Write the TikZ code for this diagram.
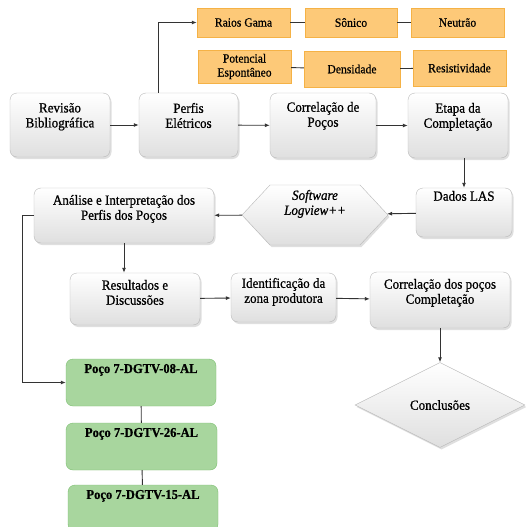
\documentclass[tikz,border=0pt]{standalone}
\usepackage{fontspec}
\setmainfont{Liberation Serif}
\newfontfamily\rotulo[FakeStretch=0.93,FakeBold=0.8]{Liberation Serif}
\usetikzlibrary{shapes.geometric,shapes.symbols,shadows,arrows.meta}

\definecolor{laranja}{HTML}{FDC978}
\definecolor{laranjaborda}{HTML}{F5B246}
\definecolor{verde}{HTML}{A8D69E}
\definecolor{verdeborda}{HTML}{7DBF71}

% texto no alto da caixa: [recuo]{largura}{altura}{texto}
\newcommand{\caixatexto}[4][9]{\parbox[c][#3pt][t]{#2pt}{\centering\vspace{#1pt}#4}}

\tikzset{
  sombreado/.style={draw=gray!55, top color=white, bottom color=gray!25,
    drop shadow={opacity=0.25, shadow xshift=1.5pt, shadow yshift=-2pt}},
  caixa/.style={sombreado, rounded corners=7pt, inner sep=0pt,
    font=\rotulo\fontsize{14}{15}\selectfont},
  perfil/.style={draw=laranjaborda, fill=laranja, align=center, inner sep=1pt,
    font=\rotulo\fontsize{12.5}{14}\selectfont},
  poco/.style={draw=verdeborda, fill=verde, rounded corners=7pt, inner sep=0pt,
    font=\rotulo\bfseries\fontsize{13.5}{15}\selectfont},
  seta/.style={-{Latex[length=5pt,width=4pt]}, line width=0.9pt, black!80},
  liga/.style={line width=0.9pt, black!80}
}

\begin{document}
\begin{tikzpicture}[x=1pt,y=-1pt]
\fill[white] (0,0) rectangle (525,527);
\useasboundingbox (0,0) rectangle (525,527);

% perfis eletricos
\node[perfil, minimum width=93pt, minimum height=29pt] (raios) at (243.5,22.5) {Raios Gama};
\node[perfil, minimum width=92pt, minimum height=29pt] (sonico) at (351,22.5) {Sônico};
\node[perfil, minimum width=93pt, minimum height=29pt] (neutrao) at (457.5,22.5) {Neutrão};
\node[perfil, minimum width=93pt, minimum height=33pt] (potencial) at (244.5,66.5) {Potencial\\Espontâneo};
\node[perfil, minimum width=96pt, minimum height=36pt] (densidade) at (352,69) {Densidade};
\node[perfil, minimum width=93pt, minimum height=36pt] (resistividade) at (459.5,68) {Resistividade};

% etapas
\node[caixa] (revisao) at (60,125) {\caixatexto[10]{100}{64}{Revisão\\Bibliográfica}};
\node[caixa] (perfis) at (188.5,125) {\caixatexto[10]{99}{64}{Perfis\\Elétricos}};
\node[caixa] (correlacao) at (323,125.5) {\caixatexto[9]{106}{65}{Correlação de\\Poços}};
\node[caixa] (etapa) at (458,125.5) {\caixatexto[10]{100}{65}{Etapa da\\Completação}};
\node[caixa] (dados) at (464,212.5) {\caixatexto[3]{96}{49}{Dados LAS}};
\node[sombreado, signal, signal to=west and east, signal pointer angle=94, inner sep=0pt,
  font=\rotulo\fontsize{14}{15}\selectfont] (software) at (315,215)
  {\caixatexto[5]{90}{60}{\textit{Software}\\\textit{Logview++}}};
\node[caixa] (analise) at (124,215.5) {\caixatexto[7]{180}{55}{Análise e Interpretação dos\\Perfis dos Poços}};
\node[caixa] (resultados) at (135,299) {\caixatexto[7]{130}{52}{Resultados e\\Discussões}};
\node[caixa] (identificacao) at (283.5,297.5) {\caixatexto[5]{105}{49}{Identificação da\\zona produtora}};
\node[caixa] (correlpocos) at (440,300) {\caixatexto[7]{140}{56}{Correlação dos poços\\Completação}};
\node[sombreado, diamond, minimum width=170pt, minimum height=85pt, inner sep=0pt,
  font=\rotulo\fontsize{14}{15}\selectfont] (conclusoes) at (440,405) {Conclusões};

% pocos
\node[poco] (poco08) at (141,382.5) {\caixatexto[5]{150}{47}{Poço 7-DGTV-08-AL}};
\node[poco] (poco26) at (141.5,446.5) {\caixatexto[5]{151}{47}{Poço 7-DGTV-26-AL}};
\node[poco] (poco15) at (143,508) {\caixatexto[5]{150}{46}{Poço 7-DGTV-15-AL}};

% ligacoes
\draw[seta] (revisao) -- (perfis);
\draw[seta] (perfis) -- (correlacao);
\draw[seta] (correlacao) -- (etapa);
\draw[seta] ([xshift=-30pt]perfis.north) |- (raios.west);
\draw[liga] (raios) -- (sonico);
\draw[liga] (sonico) -- (neutrao);
\draw[liga] (potencial) -- (densidade);
\draw[liga] (densidade) -- (resistividade);
\draw[seta] (etapa.south -| dados.north) -- (dados.north);
\draw[seta] (dados) -- (software);
\draw[seta] (software) -- (analise);
\draw[seta] (analise.south) -- (analise.south |- resultados.north);
\draw[seta] (resultados) -- (identificacao);
\draw[seta] (identificacao) -- (correlpocos);
\draw[seta] (correlpocos) -- (conclusoes);
\draw[seta] (analise.west) -- ++(-11,0) |- (poco08.west);
\draw[liga] (poco08) -- (poco26);
\draw[liga] (poco26) -- (poco15);
\end{tikzpicture}
\end{document}
